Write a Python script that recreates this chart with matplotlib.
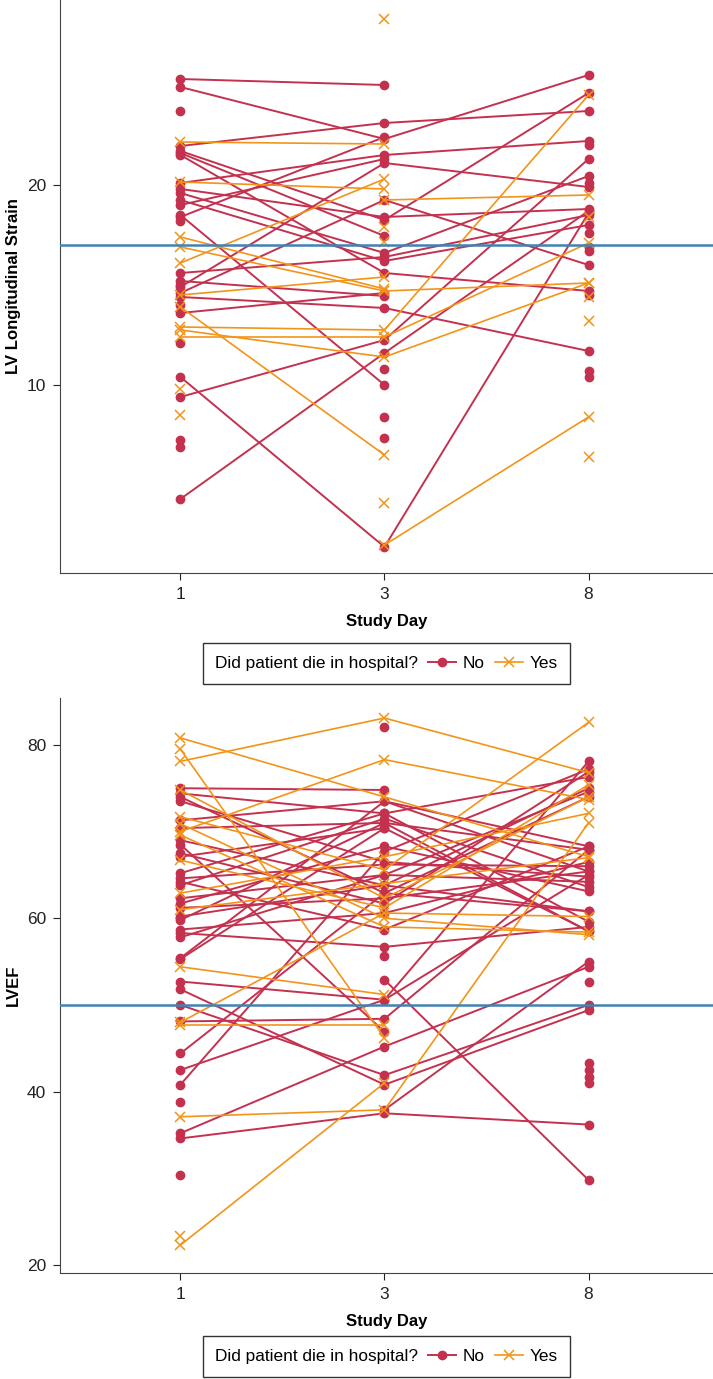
import numpy as np
import matplotlib.pyplot as plt
from matplotlib.lines import Line2D
from matplotlib.offsetbox import HPacker

plt.rcParams['font.family'] = ['Liberation Sans', 'DejaVu Sans']

nan = np.nan
days = ['1', '3', '8']
pos = [1, 2, 3]

# LV longitudinal strain, one row per patient: day 1, day 3, day 8
gls_no = [
    [25.3, 25.0, nan], [24.9, 22.3, 25.5], [23.7, nan, nan], [21.95, 23.1, 23.7],
    [21.7, 18.25, 24.6], [21.6, 17.45, nan], [21.5, 15.6, 14.7], [19.6, 16.6, 20.45],
    [19.25, 16.2, 18.0], [18.5, 10.0, nan], [18.4, 22.4, nan], [14.9, 21.1, 19.9],
    [14.6, 19.25, 16.0], [15.6, 16.4, 18.5], [15.2, 14.45, nan], [14.4, 13.85, 11.7],
    [10.4, 1.9, 18.6], [9.4, 12.25, 21.3], [4.3, 11.6, 18.7], [13.6, 14.6, nan],
    [19.8, 18.4, 18.8], [20.1, 21.5, 22.2], [19.0, 21.3, nan], [18.2, nan, 22.0],
    [12.1, nan, 20.1], [7.25, nan, 17.6], [6.9, nan, 16.9], [15.0, nan, 16.7],
    [14.0, nan, 14.5], [nan, 10.8, nan], [nan, 8.4, nan], [nan, 7.35, nan],
    [nan, nan, 10.7], [nan, nan, 10.4],
]
gls_yes = [
    [22.15, 22.05, nan], [20.15, 19.8, nan], [17.4, 14.8, nan], [16.9, 14.7, 15.1],
    [16.1, 20.3, nan], [14.5, 15.4, nan], [13.9, 6.5, nan], [12.9, 12.75, 24.5],
    [12.75, 11.4, 15.1], [12.4, 12.4, 17.1], [nan, 19.25, 19.5], [nan, 2.0, 8.4],
    [9.8, nan, 18.4], [8.5, nan, 14.4], [nan, 28.3, nan], [nan, 4.1, nan],
    [nan, 17.9, nan], [nan, 17.15, nan], [nan, nan, 13.2], [nan, nan, 6.4],
]
gls_cut = 17

# LVEF, one row per patient: day 1, day 3, day 8
lvef_no = [
    [75.0, 74.8, nan], [74.4, 72.1, 76.3], [74.0, 62.9, 60.8], [73.5, 66.5, 64.8],
    [71.3, 73.5, 65.4], [70.4, 71.0, 67.9], [69.0, 63.8, 75.0], [68.5, 46.9, nan],
    [67.5, 61.7, 76.9], [67.1, 70.4, 58.5], [65.2, 72.1, 59.6], [64.6, 66.2, 66.0],
    [64.2, 58.7, 68.3], [63.8, 71.5, 63.6], [62.3, 65.0, 74.6], [61.7, 68.3, 63.1],
    [61.2, 62.3, 65.4], [60.2, 63.8, 60.8], [59.8, 71.0, 58.5], [58.7, 60.6, 66.5],
    [58.3, 56.7, 59.0], [57.8, 65.0, 64.2], [55.4, 73.5, 68.3], [55.3, 70.4, nan],
    [52.7, 50.6, 78.1], [51.8, 40.8, 49.4], [48.1, 48.4, 67.9], [44.4, 62.9, 74.0],
    [42.5, 50.6, 65.0], [40.8, 67.7, 77.2], [35.2, 45.2, 54.4], [34.6, 37.5, 36.2],
    [nan, 52.9, 29.8], [nan, 37.9, 55.0], [50.0, 41.9, 50.0], [38.8, nan, 43.3],
    [30.4, nan, 42.5], [60.0, nan, 41.7], [nan, 82.1, nan], [nan, nan, 41.0],
    [nan, nan, 52.6], [nan, 55.6, nan],
]
lvef_yes = [
    [80.8, 74.0, 67.1], [79.5, 46.2, nan], [78.1, 83.1, 76.8], [70.0, 78.3, 73.7],
    [71.7, 65.6, 82.6], [74.8, 62.3, 74.0], [70.9, 60.0, 58.1], [66.7, 61.2, 75.4],
    [62.9, 67.1, 72.1], [54.4, 51.2, nan], [48.0, 60.6, 60.2], [47.7, 47.7, nan],
    [37.1, 37.9, 71.0], [22.3, 41.0, nan], [23.3, nan, nan], [69.6, 59.0, 58.4],
    [61.0, 64.0, 67.0],
]
lvef_cut = 50

red = '#C4314F'
orange = '#F39419'
blue = '#3F83B3'


def panel(ax, no, yes, cut, ylabel, ylim, yticks):
    for row in no:
        ax.plot(pos, row, color=red, lw=1.4, marker='o', ms=6, zorder=2)
    for row in yes:
        ax.plot(pos, row, color=orange, lw=1.2, marker='x', ms=7, mew=1.1, zorder=3)
    ax.axhline(cut, color=blue, lw=1.8, zorder=4)
    ax.set_xlim(0.41, 3.61)
    ax.set_ylim(*ylim)
    ax.set_yticks(yticks)
    ax.set_xticks(pos)
    ax.set_xticklabels(days)
    ax.spines['top'].set_visible(False)
    ax.spines['right'].set_visible(False)
    for s in ['left', 'bottom']:
        ax.spines[s].set_color('#444444')
    ax.tick_params(labelsize=12.5, colors='#222222', length=5, pad=5)
    ax.set_ylabel(ylabel, fontsize=12, fontweight='bold', labelpad=4)
    ax.set_xlabel('Study Day', fontsize=12, fontweight='bold', labelpad=9)


def legend(ax, y):
    h_no = Line2D([], [], color=red, marker='o', ms=6, lw=1.4)
    h_yes = Line2D([], [], color=orange, marker='x', ms=7, mew=1.1, lw=1.2)
    leg = ax.legend([h_no, h_yes], ['No', 'Yes'], ncol=2, loc='upper center',
                    bbox_to_anchor=(0.5, y), fontsize=12.4, title='Did patient die in hospital?',
                    title_fontsize=12.4, fancybox=False, edgecolor='#333333',
                    handlelength=1.6, handletextpad=0.4, columnspacing=0.6,
                    borderpad=0.75, framealpha=1)
    box = HPacker(pad=leg._legend_box.pad, sep=7, align='center',
                  children=[leg._legend_title_box, leg._legend_handle_box])
    box.set_figure(ax.figure)
    box.axes = ax
    leg._legend_box = box
    leg._legend_box.set_offset(leg._findoffset)
    leg.get_frame().set_linewidth(1.0)


fig = plt.figure(figsize=(7.13, 13.79), dpi=100)
ax1 = fig.add_axes([0.0842, 0.5845, 0.9158, 0.4155])
ax2 = fig.add_axes([0.0842, 0.0769, 0.9158, 0.4170])

panel(ax1, gls_no, gls_yes, gls_cut, 'LV Longitudinal Strain', (0.6, 29.25), [10, 20])
panel(ax2, lvef_no, lvef_yes, lvef_cut, 'LVEF', (19.08, 85.42), [20, 40, 60, 80])
legend(ax1, -0.107)
legend(ax2, -0.094)

fig.savefig('out.png', dpi=100)
